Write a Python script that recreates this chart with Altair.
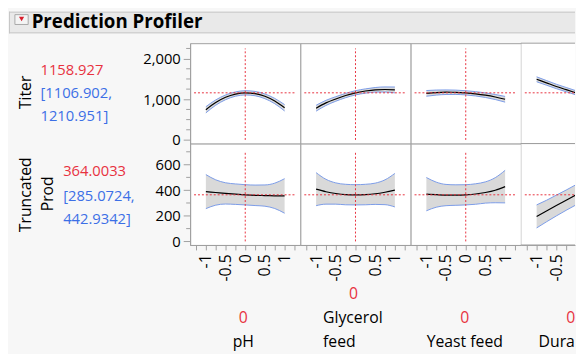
import altair as alt
import pandas as pd

FONT = "Open Sans"
GRAY = "#a0a0a0"
RED = "#e8323f"
BLUE = "#3c6fe6"
BAND_FILL = "#d9d9d9"
BAND_EDGE = "#7b9be8"

# ---------------- data ----------------
factors = ["pH", "Glycerol feed", "Yeast feed", "Duration"]
x_levels = [-1, -0.75, -0.5, -0.25, 0, 0.25, 0.5, 0.75, 1]

titer_current = 1158.927
titer_ci = [1106.902, 1210.951]
prod_current = 364.0033
prod_ci = [285.0724, 442.9342]

titer_ph = [741, 919, 1048, 1128, 1159, 1140, 1073, 956, 790]
titer_glycerol = [780, 911, 1008, 1093, 1159, 1203, 1233, 1241, 1230]
titer_yeast = [1145, 1165, 1174, 1172, 1159, 1135, 1101, 1056, 1000]
titer_duration = [1492, 1404, 1316, 1238, 1159, 1080, 1000, 920, 840]

titer_hw_ph = [76, 65, 58, 53, 52, 53, 58, 65, 78]
titer_hw_glycerol = [72, 63, 56, 53, 52, 53, 56, 63, 72]
titer_hw_yeast = [70, 62, 56, 53, 52, 53, 56, 62, 70]
titer_hw_duration = [60, 57, 54, 52, 52, 52, 54, 57, 60]

prod_ph = [389, 382, 375, 369, 364, 360, 358, 356, 355]
prod_glycerol = [408, 388, 374, 366, 364, 366, 372, 384, 400]
prod_yeast = [369, 365, 362, 362, 364, 370, 382, 400, 428]
prod_duration = [195, 237, 280, 322, 364, 406, 448, 491, 533]

prod_hw_ph = [133, 99, 83, 80, 79, 80, 83, 99, 135]
prod_hw_glycerol = [129, 97, 83, 80, 79, 80, 83, 97, 131]
prod_hw_yeast = [130, 98, 83, 80, 79, 80, 83, 98, 127]
prod_hw_duration = [90, 84, 81, 79, 79, 79, 81, 84, 90]

titer_y_major = [0, 1000, 2000]
titer_y_minor = [250, 500, 750, 1250, 1500, 1750, 2250]
prod_y_major = [0, 200, 400, 600]
prod_y_minor = [100, 300, 500, 700]
x_ticks = [-1.25, -1, -0.75, -0.5, -0.25, 0, 0.25, 0.5, 0.75, 1, 1.25]

titer_preds = [titer_ph, titer_glycerol, titer_yeast, titer_duration]
titer_hws = [titer_hw_ph, titer_hw_glycerol, titer_hw_yeast, titer_hw_duration]
prod_preds = [prod_ph, prod_glycerol, prod_yeast, prod_duration]
prod_hws = [prod_hw_ph, prod_hw_glycerol, prod_hw_yeast, prod_hw_duration]

# ---------------- layout ----------------
PANEL_W = [112, 112, 112, 55]
ROW_H = [102, 103]
PX_PER_UNIT = 40.0
ONE = alt.Data(values=[{"k": 1}])


def label(text, x, y, color="black", size=16, align="left", angle=0,
          weight="normal", limit=0):
    kw = dict(text=text, fontSize=size, align=align, baseline="middle",
              color=color, font=FONT, fontWeight=weight)
    if angle:
        kw["angle"] = angle
    if limit:
        kw["limit"] = limit
        kw["ellipsis"] = "\u200b"
    return alt.Chart(ONE).mark_text(**kw).encode(x=alt.value(x), y=alt.value(y))


def panel(col, row, pred, hw, current, ydom, ymajor, yminor, vtop, extras):
    w = PANEL_W[col]
    h = ROW_H[row]
    xdom = [-1.4, -1.4 + w / PX_PER_UNIT]
    xs = alt.Scale(domain=xdom, nice=False, zero=False)
    ys = alt.Scale(domain=ydom, nice=False, zero=False)
    if row == 1:
        vals = [v for v in x_ticks if v < xdom[1] - 0.05]
        xaxis = alt.Axis(values=vals,
                         labelExpr="datum.value % 0.5 == 0 ? toString(datum.value) : ''",
                         labelAngle=270, labelAlign="right", labelBaseline="middle",
                         tickSize=5, labelPadding=4, labelFontSize=16,
                         labelOverlap=False, labelFlush=False, title=None,
                         grid=False, domainColor=GRAY, tickColor=GRAY,
                         labelColor="black", labelFont=FONT)
    else:
        xaxis = None
    if col == 0:
        yaxis = alt.Axis(values=ymajor, labelExpr="format(datum.value, ',')",
                         tickSize=7, labelPadding=3,
                         labelFontSize=15, title=None, grid=False,
                         domainColor=GRAY, tickColor=GRAY, labelColor="black",
                         labelFont=FONT, labelFlush=False, labelOverlap=False)
    else:
        yaxis = None

    df = pd.DataFrame({
        "x": x_levels,
        "pred": pred,
        "lo": [p - e for p, e in zip(pred, hw)],
        "hi": [p + e for p, e in zip(pred, hw)],
    })
    X = lambda f: alt.X(f, type="quantitative", scale=xs, axis=xaxis)
    Y = lambda f: alt.Y(f, type="quantitative", scale=ys, axis=yaxis)
    base = alt.Chart(df)
    band = base.mark_area(color=BAND_FILL, interpolate="monotone", clip=True).encode(
        x=X("x"), y=Y("lo"), y2="hi")
    hi = base.mark_line(color=BAND_EDGE, strokeWidth=1, interpolate="monotone",
                        clip=True).encode(x=X("x"), y=Y("hi"))
    lo = base.mark_line(color=BAND_EDGE, strokeWidth=1, interpolate="monotone",
                        clip=True).encode(x=X("x"), y=Y("lo"))
    mid = base.mark_line(color="black", strokeWidth=1.2, interpolate="monotone",
                         clip=True).encode(x=X("x"), y=Y("pred"))
    hdf = pd.DataFrame({"x": [-1.3], "x2": [1.3], "y": [current]})
    hrule = alt.Chart(hdf).mark_rule(color=RED, strokeDash=[2, 2], strokeWidth=1,
                                     clip=True).encode(x=X("x"), x2="x2", y=Y("y"))
    layers = [band, hi, lo, mid, hrule]
    if xdom[1] > 0.05:
        vdf = pd.DataFrame({"x": [0], "y": [0], "y2": [vtop]})
        vrule = alt.Chart(vdf).mark_rule(color=RED, strokeDash=[2, 2], strokeWidth=1,
                                         clip=True).encode(x=X("x"), y=Y("y"), y2="y2")
        layers.append(vrule)
    if col == 0:
        mdf = pd.DataFrame({"v": yminor})
        minor = alt.Chart(mdf).mark_rule(color=GRAY, strokeWidth=1).encode(
            y=Y("v"), x=alt.value(-4), x2=alt.value(0))
        layers.append(minor)
    if col == 3:
        layers.append(alt.Chart(ONE).mark_rule(color=GRAY, strokeWidth=1).encode(
            x=alt.value(0), x2=alt.value(w), y=alt.value(0)))
        layers.append(alt.Chart(ONE).mark_rule(color=GRAY, strokeWidth=1).encode(
            x=alt.value(0), x2=alt.value(w), y=alt.value(h)))
    layers += extras
    ch = alt.layer(*layers).properties(width=w, height=h)
    if col == 3:
        ch = ch.properties(view=alt.ViewBackground(stroke="transparent", fill="white"))
    return ch


# ---------------- annotation texts ----------------
# title bar (relative to first panel origin at page 192,40)
TB = "#c6c6c6"
title_layers = [
    alt.Chart(ONE).mark_rect(color="#e9e9e9").encode(
        x=alt.value(-184), x2=alt.value(391), y=alt.value(-32), y2=alt.value(-10)),
    alt.Chart(ONE).mark_rule(color=TB).encode(
        x=alt.value(-184), x2=alt.value(391), y=alt.value(-31.5)),
    alt.Chart(ONE).mark_rule(color=TB).encode(
        x=alt.value(-184), x2=alt.value(391), y=alt.value(-10.5)),
    alt.Chart(ONE).mark_rule(color=TB).encode(
        x=alt.value(-183.5), y=alt.value(-32), y2=alt.value(-10)),
    alt.Chart(ONE).mark_rect(color="#f4f4f4", stroke="#a8a8a8", strokeWidth=1).encode(
        x=alt.value(-178), x2=alt.value(-164.5), y=alt.value(-29), y2=alt.value(-19)),
    alt.Chart(ONE).mark_point(shape="triangle-down", filled=True, color="#d81e2c",
                              size=28, opacity=1).encode(
        x=alt.value(-171.2), y=alt.value(-24.5)),
    label("Prediction Profiler", -161, -21, size=19, weight="bold"),
]

row1_left = [
    label("Titer", -167, 50, angle=270, align="center"),
    label(f"{titer_current}", -152, 27.7, color=RED, size=15),
    label(f"[{titer_ci[0]},", -152, 51, color=BLUE, size=15),
    label(f"{titer_ci[1]}]", -152, 74, color=BLUE, size=15),
]
row2_left = [
    label("Truncated", -167, 52, angle=270, align="center"),
    label("Prod", -144, 51, angle=270, align="center"),
    label(f"{prod_current}", -129, 28, color=RED, size=15),
    label(f"[{prod_ci[0]},", -129, 53, color=BLUE, size=15),
    label(f"{prod_ci[1]}]", -129, 77, color=BLUE, size=15),
]

bottom_texts = [
    [label("0", 54, 177, color=RED, align="center"),
     label(factors[0], 54, 202, align="center")],
    [label("0", 54, 153, color=RED, align="center"),
     label("Glycerol", 23, 177),
     label("feed", 23, 202)],
    [label("0", 55, 177, color=RED, align="center"),
     label(factors[2], 55, 202, align="center")],
    [label("0", 46, 177, color=RED),
     label(factors[3], 18, 202, limit=37)],
]

# ---------------- assemble ----------------
cells = []
for c in range(4):
    ex1 = (title_layers + row1_left) if c == 0 else []
    cells.append(panel(c, 0, titer_preds[c], titer_hws[c], titer_current,
                       [-90, 2380], titer_y_major, titer_y_minor, 2250, ex1))
for c in range(4):
    ex2 = (row2_left if c == 0 else []) + bottom_texts[c]
    cells.append(panel(c, 1, prod_preds[c], prod_hws[c], prod_current,
                       [-28, 764], prod_y_major, prod_y_minor, 700, ex2))

chart = alt.concat(
    *cells, columns=4, spacing=0, bounds="flush", align="each"
).properties(padding=0).configure(
    background="#f7f7f7", font=FONT
).configure_view(
    stroke=GRAY, fill="white", strokeWidth=1
)

chart.save("out.html", embed_options={"renderer": "svg", "actions": False})
